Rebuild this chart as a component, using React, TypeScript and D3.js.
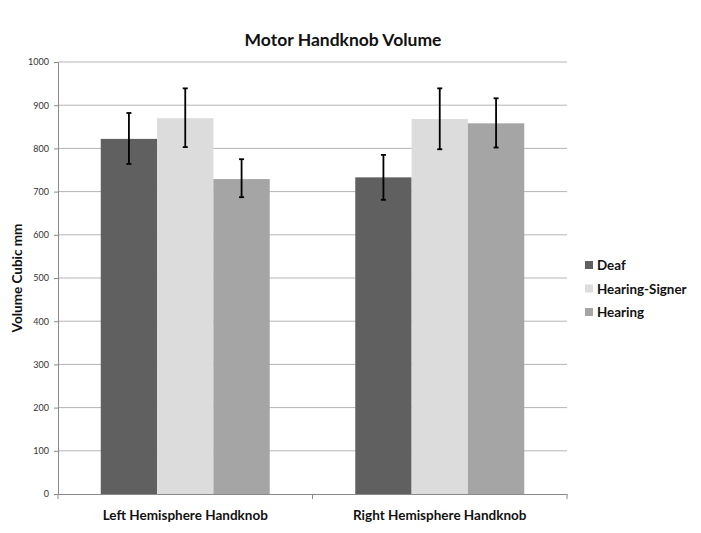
import React, { useRef, useEffect } from 'react';
import * as d3 from 'd3';

// chart data
const categories = ['Left Hemisphere Handknob', 'Right Hemisphere Handknob'];
const seriesNames = ['Deaf', 'Hearing-Signer', 'Hearing'];
const seriesColors = ['#606060', '#dcdcdc', '#a5a5a5'];
const deafValues = [822, 733];
const signerValues = [870, 868];
const hearingValues = [729, 858];
const deafErrLow = [764, 681];
const deafErrHigh = [882, 785];
const signerErrLow = [803, 798];
const signerErrHigh = [939, 939];
const hearingErrLow = [687, 802];
const hearingErrHigh = [775, 916];
const yTicks = [0, 100, 200, 300, 400, 500, 600, 700, 800, 900, 1000];

const WIDTH = 701;
const HEIGHT = 533;

const App = () => {
  const svgRef = useRef<SVGSVGElement>(null);

  useEffect(() => {
    const margin = { top: 62, right: 134, bottom: 39, left: 58 };
    const innerWidth = WIDTH - margin.left - margin.right;
    const innerHeight = HEIGHT - margin.top - margin.bottom;
    const font = 'Lato, "Open Sans", sans-serif';

    const svg = d3.select(svgRef.current);
    svg.selectAll('*').remove();

    svg.append('rect').attr('width', WIDTH).attr('height', HEIGHT).attr('fill', '#fff');

    const g = svg.append('g').attr('transform', `translate(${margin.left},${margin.top})`);

    const x0 = d3.scaleBand().domain(categories).range([0, innerWidth]).paddingInner(0.336).paddingOuter(0.168);
    const x1 = d3.scaleBand().domain(seriesNames).range([0, x0.bandwidth()]);
    const y = d3.scaleLinear().domain([0, 1000]).range([innerHeight, 0]);

    // gridlines
    g.append('g')
      .selectAll('line')
      .data(yTicks.filter(t => t > 0))
      .join('line')
      .attr('x1', 0)
      .attr('x2', innerWidth)
      .attr('y1', d => y(d))
      .attr('y2', d => y(d))
      .attr('stroke', '#b5b5b5')
      .attr('stroke-width', 1);

    // y axis
    const yAxis = g.append('g').call(
      d3.axisLeft(y).tickValues(yTicks).tickFormat(d3.format('d')).tickSize(4).tickPadding(5)
    );
    yAxis.select('.domain').attr('stroke', '#8a8a8a');
    yAxis.selectAll('.tick line').attr('stroke', '#8a8a8a');
    yAxis.selectAll('.tick text').attr('font-family', font).attr('font-size', 9).attr('fill', '#333');

    // x axis
    const xAxis = g.append('g')
      .attr('transform', `translate(0,${innerHeight})`)
      .call(d3.axisBottom(x0).tickSize(0).tickPadding(16));
    xAxis.select('.domain').attr('stroke', '#8a8a8a');
    xAxis.selectAll('.tick text')
      .attr('font-family', font)
      .attr('font-size', 13.5)
      .attr('font-weight', 'bold')
      .attr('fill', '#111');
    xAxis.append('g')
      .selectAll('line')
      .data([0, innerWidth / 2, innerWidth])
      .join('line')
      .attr('x1', d => d)
      .attr('x2', d => d)
      .attr('y1', 0)
      .attr('y2', 5)
      .attr('stroke', '#8a8a8a');

    const series = [
      { name: seriesNames[0], values: deafValues, lo: deafErrLow, hi: deafErrHigh, color: seriesColors[0] },
      { name: seriesNames[1], values: signerValues, lo: signerErrLow, hi: signerErrHigh, color: seriesColors[1] },
      { name: seriesNames[2], values: hearingValues, lo: hearingErrLow, hi: hearingErrHigh, color: seriesColors[2] },
    ];

    // bars
    series.forEach(s => {
      g.append('g')
        .selectAll('rect')
        .data(categories)
        .join('rect')
        .attr('x', (c) => (x0(c) ?? 0) + (x1(s.name) ?? 0))
        .attr('y', (c, i) => y(s.values[i]))
        .attr('width', x1.bandwidth())
        .attr('height', (c, i) => innerHeight - y(s.values[i]))
        .attr('fill', s.color);
    });

    // error bars
    series.forEach(s => {
      const eg = g.append('g').attr('stroke', '#000').attr('stroke-width', 1.8);
      categories.forEach((c, i) => {
        const cx = (x0(c) ?? 0) + (x1(s.name) ?? 0) + x1.bandwidth() / 2;
        eg.append('line').attr('x1', cx).attr('x2', cx).attr('y1', y(s.hi[i])).attr('y2', y(s.lo[i]));
        eg.append('line').attr('x1', cx - 2.5).attr('x2', cx + 2.5).attr('y1', y(s.hi[i])).attr('y2', y(s.hi[i]));
        eg.append('line').attr('x1', cx - 2.5).attr('x2', cx + 2.5).attr('y1', y(s.lo[i])).attr('y2', y(s.lo[i]));
      });
    });

    // title
    svg.append('text')
      .attr('x', 343)
      .attr('y', 46)
      .attr('text-anchor', 'middle')
      .attr('font-family', font)
      .attr('font-size', 17.5)
      .attr('font-weight', 'bold')
      .attr('fill', '#111')
      .text('Motor Handknob Volume');

    // y label
    svg.append('text')
      .attr('transform', `translate(22,${margin.top + innerHeight / 2}) rotate(-90)`)
      .attr('text-anchor', 'middle')
      .attr('font-family', font)
      .attr('font-size', 13.5)
      .attr('font-weight', 'bold')
      .attr('fill', '#111')
      .text('Volume Cubic mm');

    // legend
    const legend = svg.append('g').attr('transform', 'translate(585,265)');
    series.forEach((s, i) => {
      const row = legend.append('g').attr('transform', `translate(0,${i * 23.5})`);
      row.append('rect').attr('x', 0).attr('y', -4).attr('width', 8).attr('height', 8).attr('fill', s.color);
      row.append('text')
        .attr('x', 12)
        .attr('y', 5)
        .attr('font-family', font)
        .attr('font-size', 13.4)
        .attr('font-weight', 'bold')
        .attr('fill', '#111')
        .text(s.name);
    });
  }, []);

  return <svg ref={svgRef} width={WIDTH} height={HEIGHT} style={{ display: 'block', margin: -8 }} />;
};

export default App;
